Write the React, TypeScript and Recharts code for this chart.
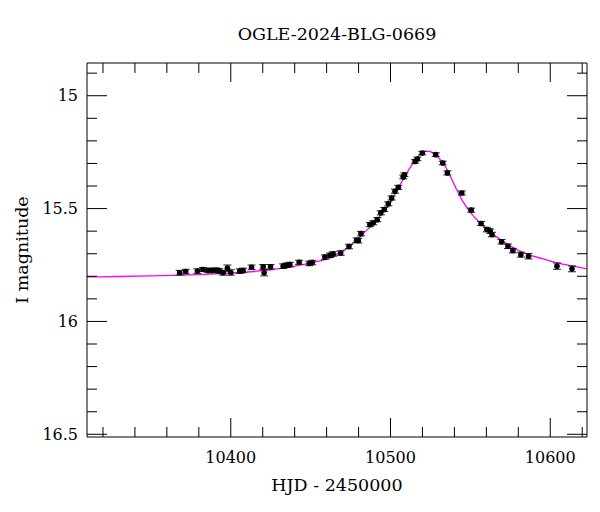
import { ComposedChart, Scatter, Line, XAxis, YAxis, ErrorBar } from "recharts";

// OGLE photometry (HJD - 2450000, I mag, error)
const obsT = [10368.0, 10371.8, 10379.1, 10382.6, 10385.8, 10388.3, 10391.0, 10392.7, 10395.2, 10397.9, 10400.0, 10405.6, 10407.7, 10413.0, 10420.3, 10420.9, 10424.9, 10432.8, 10434.9, 10437.0, 10442.8, 10449.1, 10451.0, 10458.9, 10462.1, 10464.1, 10468.8, 10474.0, 10478.8, 10479.8, 10481.5, 10487.1, 10489.2, 10491.7, 10493.9, 10496.1, 10498.6, 10500.7, 10502.8, 10504.9, 10508.0, 10508.7, 10515.4, 10516.8, 10519.9, 10528.3, 10532.7, 10535.6, 10544.6, 10550.5, 10556.7, 10560.3, 10562.4, 10563.5, 10569.5, 10573.5, 10576.6, 10581.6, 10586.4, 10604.2, 10613.6];
const obsMag = [15.784, 15.779, 15.777, 15.770, 15.774, 15.774, 15.773, 15.776, 15.784, 15.764, 15.783, 15.777, 15.774, 15.760, 15.758, 15.784, 15.758, 15.755, 15.751, 15.748, 15.738, 15.743, 15.739, 15.715, 15.707, 15.701, 15.697, 15.668, 15.640, 15.642, 15.611, 15.571, 15.563, 15.549, 15.519, 15.504, 15.479, 15.453, 15.423, 15.406, 15.360, 15.350, 15.291, 15.280, 15.254, 15.261, 15.298, 15.342, 15.431, 15.507, 15.566, 15.593, 15.600, 15.615, 15.647, 15.667, 15.686, 15.704, 15.711, 15.755, 15.767];
const obsErr = [0.010, 0.010, 0.010, 0.009, 0.010, 0.010, 0.010, 0.010, 0.011, 0.014, 0.012, 0.010, 0.010, 0.010, 0.010, 0.014, 0.010, 0.010, 0.010, 0.010, 0.009, 0.010, 0.010, 0.010, 0.010, 0.010, 0.010, 0.010, 0.010, 0.010, 0.010, 0.009, 0.009, 0.009, 0.009, 0.009, 0.009, 0.009, 0.009, 0.009, 0.008, 0.008, 0.008, 0.008, 0.008, 0.008, 0.008, 0.009, 0.009, 0.009, 0.009, 0.010, 0.010, 0.010, 0.010, 0.010, 0.010, 0.011, 0.012, 0.014, 0.013];

// microlensing model curve
const modelT = [10310, 10330, 10350, 10370, 10390, 10410, 10425, 10435, 10445, 10455, 10462, 10468, 10474, 10480, 10486, 10492, 10498, 10504, 10510, 10515, 10519, 10522, 10525, 10528, 10532, 10536, 10540, 10545, 10550, 10556, 10562, 10570, 10578, 10586, 10595, 10605, 10615, 10623];
const modelMag = [15.803, 15.801, 15.798, 15.795, 15.789, 15.781, 15.771, 15.762, 15.748, 15.733, 15.720, 15.695, 15.670, 15.630, 15.590, 15.545, 15.490, 15.420, 15.345, 15.290, 15.257, 15.246, 15.248, 15.262, 15.290, 15.335, 15.395, 15.465, 15.517, 15.563, 15.602, 15.643, 15.678, 15.703, 15.722, 15.742, 15.756, 15.767];

const xTicks = [10320, 10340, 10360, 10380, 10400, 10420, 10440, 10460, 10480, 10500, 10520, 10540, 10560, 10580, 10600, 10620];
const xMajor = [10400, 10500, 10600];
const yTicks = [14.9, 15.0, 15.1, 15.2, 15.3, 15.4, 15.5, 15.6, 15.7, 15.8, 15.9, 16.0, 16.1, 16.2, 16.3, 16.4, 16.5];
const yMajor = [15, 15.5, 16, 16.5];

const obs = obsT.map((t, i) => ({ t, mag: obsMag[i], err: obsErr[i] }));
const model = modelT.map((t, i) => ({ t, mag: modelMag[i] }));

const FONT = "'DejaVu Serif', serif";
const isMajX = (v: number) => xMajor.some((m) => Math.abs(m - v) < 1e-6);
const isMajY = (v: number) => yMajor.some((m) => Math.abs(m - v) < 1e-6);

const BottomTick = (p: any) => {
  const maj = isMajX(p.payload.value);
  return (
    <g>
      <line x1={p.x} x2={p.x} y1={p.y} y2={p.y - (maj ? 19 : 10)} stroke="#000" />
      {maj && (
        <text x={p.x} y={p.y + 26} textAnchor="middle" fontFamily={FONT} fontSize={16} fill="#000">
          {p.payload.value}
        </text>
      )}
    </g>
  );
};
const TopTick = (p: any) => {
  const maj = isMajX(p.payload.value);
  return <line x1={p.x} x2={p.x} y1={p.y} y2={p.y + (maj ? 19 : 10)} stroke="#000" />;
};
const LeftTick = (p: any) => {
  const v = p.payload.value;
  const maj = isMajY(v);
  return (
    <g>
      <line x1={p.x} x2={p.x + (maj ? 20 : 10)} y1={p.y} y2={p.y} stroke="#000" />
      {maj && (
        <text x={p.x - 9} y={p.y} dy="0.36em" textAnchor="end" fontFamily={FONT} fontSize={16} fill="#000">
          {String(Math.round(v * 10) / 10)}
        </text>
      )}
    </g>
  );
};
const RightTick = (p: any) => {
  const maj = isMajY(p.payload.value);
  return <line x1={p.x} x2={p.x - (maj ? 20 : 10)} y1={p.y} y2={p.y} stroke="#000" />;
};

const Dot = (p: any) => <circle cx={p.cx} cy={p.cy} r={2.8} fill="#000" />;

export default function App() {
  return (
    <div style={{ position: "absolute", left: 0, top: 0, width: 600, height: 512, background: "#fff" }}>
      <div style={{ position: "absolute", left: 87, width: 500, top: 24, textAlign: "center", fontFamily: FONT, fontSize: 17.5 }}>
        OGLE-2024-BLG-0669
      </div>
      <div style={{ position: "absolute", left: 87, width: 500, top: 475, textAlign: "center", fontFamily: FONT, fontSize: 17.5 }}>
        HJD - 2450000
      </div>
      <div
        style={{
          position: "absolute", left: 22, top: 250, width: 200, marginLeft: -100, marginTop: -10, height: 20,
          textAlign: "center", fontFamily: FONT, fontSize: 17.5, transform: "rotate(-90deg)", lineHeight: "20px",
        }}
      >
        I magnitude
      </div>
      <ComposedChart width={600} height={512} margin={{ top: 62, right: 12, bottom: 35, left: 27 }}>
        <XAxis xAxisId="b" type="number" dataKey="t" domain={[10310, 10623]} allowDataOverflow ticks={xTicks}
          height={40} tickSize={0} tickMargin={0} tick={<BottomTick />} axisLine={{ stroke: "#000" }} tickLine={false} interval={0} />
        <XAxis xAxisId="top" orientation="top" type="number" dataKey="t" domain={[10310, 10623]} allowDataOverflow ticks={xTicks}
          height={1} tickSize={0} tickMargin={0} tick={<TopTick />} axisLine={{ stroke: "#000" }} tickLine={false} interval={0} />
        <YAxis yAxisId="l" type="number" dataKey="mag" reversed domain={[14.855, 16.512]} allowDataOverflow ticks={yTicks}
          width={60} tickSize={0} tickMargin={0} tick={<LeftTick />} axisLine={{ stroke: "#000" }} tickLine={false} interval={0} />
        <YAxis yAxisId="r" orientation="right" type="number" dataKey="mag" reversed domain={[14.855, 16.512]} allowDataOverflow ticks={yTicks}
          width={1} tickSize={0} tickMargin={0} tick={<RightTick />} axisLine={{ stroke: "#000" }} tickLine={false} interval={0} />
        {/* invisible copy so the top and right frame axes get drawn */}
        <Line xAxisId="top" yAxisId="r" data={model} dataKey="mag" stroke="none" dot={false} isAnimationActive={false} />
        <Line xAxisId="b" yAxisId="l" data={model} dataKey="mag" type="monotone" stroke="#ff00ff" strokeWidth={1.3}
          dot={false} isAnimationActive={false} />
        <Scatter xAxisId="b" yAxisId="l" data={obs} dataKey="mag" shape={<Dot />} isAnimationActive={false}>
          <ErrorBar dataKey="err" direction="y" width={4} stroke="#222" strokeWidth={1} />
        </Scatter>
      </ComposedChart>
    </div>
  );
}
